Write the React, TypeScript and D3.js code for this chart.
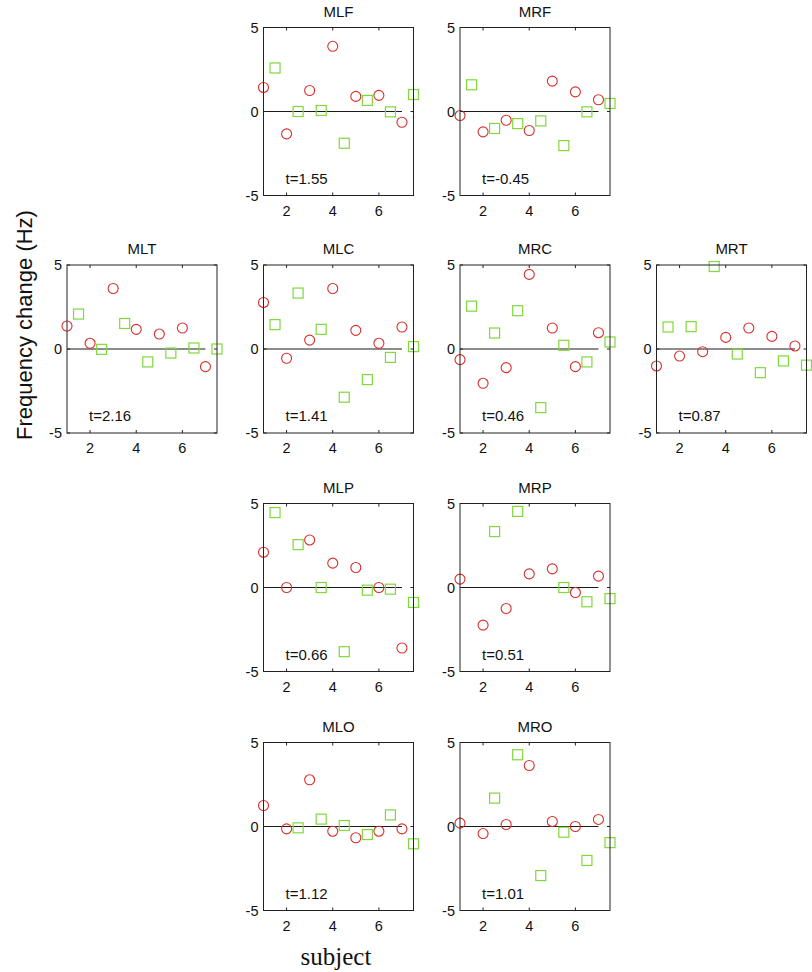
import React from "react";
import * as d3 from "d3";

// ---- data ----
const panelNames = ["MLF", "MRF", "MLT", "MLC", "MRC", "MRT", "MLP", "MRP", "MLO", "MRO"];
const tValues = ["1.55", "-0.45", "2.16", "1.41", "0.46", "0.87", "0.66", "0.51", "1.12", "1.01"];
const subjects = [1, 2, 3, 4, 5, 6, 7];
const squareX = [1.5, 2.5, 3.5, 4.5, 5.5, 6.5, 7.5];

const circMLF = [1.43, -1.33, 1.25, 3.88, 0.9, 0.96, -0.64];
const sqMLF = [2.59, 0.0, 0.06, -1.89, 0.66, -0.02, 1.01];
const circMRF = [-0.24, -1.21, -0.52, -1.13, 1.81, 1.17, 0.7];
const sqMRF = [1.59, -1.01, -0.72, -0.56, -2.03, -0.02, 0.48];
const circMLT = [1.37, 0.34, 3.6, 1.17, 0.89, 1.25, -1.05];
const sqMLT = [2.08, -0.02, 1.52, -0.77, -0.24, 0.06, 0.0];
const circMLC = [2.77, -0.55, 0.53, 3.6, 1.11, 0.34, 1.31];
const sqMLC = [1.45, 3.33, 1.17, -2.87, -1.82, -0.5, 0.14];
const circMRC = [-0.63, -2.04, -1.11, 4.44, 1.25, -1.05, 0.97];
const sqMRC = [2.55, 0.95, 2.28, -3.49, 0.22, -0.77, 0.42];
const circMRT = [-1.01, -0.42, -0.16, 0.69, 1.25, 0.75, 0.18];
const sqMRT = [1.31, 1.33, 4.91, -0.3, -1.41, -0.71, -0.96];
const circMLP = [2.1, 0.0, 2.83, 1.45, 1.19, 0.0, -3.6];
const sqMLP = [4.46, 2.55, 0.0, -3.82, -0.16, -0.1, -0.89];
const circMRP = [0.5, -2.24, -1.25, 0.81, 1.11, -0.3, 0.68];
const sqMRP = [null, 3.33, 4.53, null, 0.0, -0.85, -0.66];
const circMLO = [1.25, -0.14, 2.78, -0.28, -0.67, -0.28, -0.14];
const sqMLO = [null, -0.08, 0.44, 0.06, -0.48, 0.69, -1.03];
const circMRO = [0.2, -0.42, 0.12, 3.63, 0.3, 0.0, 0.42];
const sqMRO = [null, 1.69, 4.27, -2.92, -0.34, -2.02, -0.96];

const circleSeries = [circMLF, circMRF, circMLT, circMLC, circMRC, circMRT, circMLP, circMRP, circMLO, circMRO];
const squareSeries = [sqMLF, sqMRF, sqMLT, sqMLC, sqMRC, sqMRT, sqMLP, sqMRP, sqMLO, sqMRO];

const xTicks = [2, 4, 6];
const yTicks = [-5, 0, 5];

// ---- layout ----
const colLeft = [67, 263.5, 460, 656.5];
const rowTop = [27.5, 265, 503.5, 742.5];
const panelCell: [number, number][] = [
  [0, 1], [0, 2],
  [1, 0], [1, 1], [1, 2], [1, 3],
  [2, 1], [2, 2],
  [3, 1], [3, 2],
];
const PW = 150;
const PH = 168;
const RED = "#d8302c";
const GREEN = "#80d83c";
const FONT = "Liberation Sans, Arial, Helvetica, sans-serif";

function Panel({ idx }: { idx: number }) {
  const [r, c] = panelCell[idx];
  const left = colLeft[c];
  const top = rowTop[r];
  const x = d3.scaleLinear().domain([1, 7.5]).range([left, left + PW]);
  const y = d3.scaleLinear().domain([-5, 5]).range([top + PH, top]);
  const circ = circleSeries[idx];
  const sq = squareSeries[idx];
  const tl = 3;
  const s = 10;
  return (
    <g>
      <text x={left + PW / 2} y={top - 11} textAnchor="middle" fontSize={15} fontFamily={FONT} fill="#111">
        {panelNames[idx]}
      </text>
      <line x1={x(1)} x2={x(7)} y1={y(0)} y2={y(0)} stroke="#000" strokeWidth={0.9} />
      {subjects.map((sx, i) => (
        <circle key={"c" + i} cx={x(sx)} cy={y(circ[i])} r={5} fill="none" stroke={RED} strokeWidth={1.1} />
      ))}
      {squareX.map((sx, i) =>
        sq[i] == null ? null : (
          <rect key={"s" + i} x={x(sx) - s / 2} y={y(sq[i] as number) - s / 2} width={s} height={s}
            fill="none" stroke={GREEN} strokeWidth={1.2} />
        )
      )}
      <rect x={left} y={top} width={PW} height={PH} fill="none" stroke="#222" strokeWidth={1} />
      {xTicks.map((t) => (
        <g key={"xt" + t}>
          <line x1={x(t)} x2={x(t)} y1={top + PH} y2={top + PH - tl} stroke="#222" />
          <line x1={x(t)} x2={x(t)} y1={top} y2={top + tl} stroke="#222" />
          <text x={x(t)} y={top + PH + 20} textAnchor="middle" fontSize={14.5} fontFamily={FONT} fill="#111">
            {t}
          </text>
        </g>
      ))}
      {yTicks.map((t) => (
        <g key={"yt" + t}>
          <line x1={left} x2={left + tl} y1={y(t)} y2={y(t)} stroke="#222" />
          <line x1={left + PW} x2={left + PW - tl} y1={y(t)} y2={y(t)} stroke="#222" />
          <text x={left - 5} y={y(t)} dy="0.36em" textAnchor="end" fontSize={14.5} fontFamily={FONT} fill="#111">
            {t}
          </text>
        </g>
      ))}
      <text x={left + 22} y={top + PH - 12} fontSize={15} fontFamily={FONT} fill="#111">
        {"t=" + tValues[idx]}
      </text>
    </g>
  );
}

export default function App() {
  return (
    <svg width={812} height={972} style={{ position: "absolute", left: 0, top: 0, background: "#fff" }}>
      <rect width={812} height={972} fill="#fff" />
      {panelNames.map((_, i) => (
        <Panel key={i} idx={i} />
      ))}
      <text transform="translate(32,325) rotate(-90)" textAnchor="middle" fontSize={22} fontFamily={FONT} fill="#111">
        Frequency change (Hz)
      </text>
      <text x={336} y={965} textAnchor="middle" fontSize={25} fontFamily="Liberation Serif, Times New Roman, serif" fill="#111">
        subject
      </text>
    </svg>
  );
}
